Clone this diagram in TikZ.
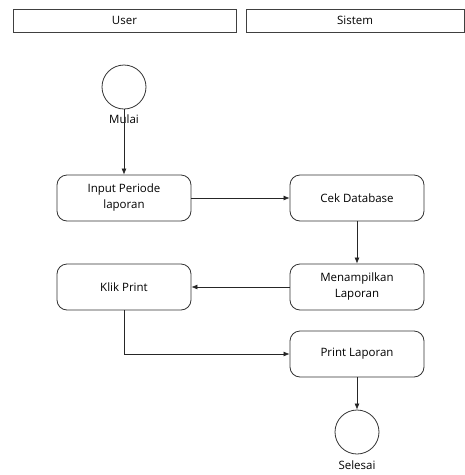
\documentclass[tikz,border=0pt]{standalone}
\usepackage{fontspec}
\setmainfont{Open Sans}
\usetikzlibrary{shapes}
\usetikzlibrary{positioning}
\usetikzlibrary{arrows.meta}
\tikzset{
    lane/.style = {rectangle, draw=black!75, line width=0.8pt, minimum width=223pt, minimum height=23pt, font=\fontsize{11.5}{14}\selectfont},
    act/.style = {rectangle, rounded corners=10pt, draw=black!80, line width=0.8pt, align=center, minimum width=134pt, minimum height=46pt, font=\fontsize{11.5}{16}\selectfont},
    state/.style = {circle, draw=black!80, line width=0.8pt, minimum size=44pt, inner sep=0pt},
    edgen/.style = {-{Latex[length=6pt,width=5pt]}, line width=0.7pt, black!85},
    edgep/.style = {line width=0.7pt, black!85} % plain
}

\begin{document}
\begin{tikzpicture}[x=1pt,y=-1pt]
\useasboundingbox (0,0) rectangle (465,475);
%
\node[lane] at (124.5,20.5) (user) {User};
\node[lane, minimum width=218pt] at (355,20.5) (sistem) {Sistem};
%
\node[state, label={[font=\fontsize{11.5}{14}\selectfont, inner sep=5pt]below:Mulai}] at (124,87) (mulai) {};
\node[act] at (124,198) (input) {Input Periode\\laporan};
\node[act] at (357,198) (cek) {Cek Database};
\node[act] at (357,287) (tampil) {Menampilkan\\Laporan};
\node[act] at (124,287) (klik) {Klik Print};
\node[act] at (357,354) (print) {Print Laporan};
\node[state, label={[font=\fontsize{11.5}{14}\selectfont, inner sep=6pt]below:Selesai}] at (357,432) (selesai) {};
%
\draw[edgen] (mulai) edge node {} (input);
\draw[edgen] (input) edge node {} (cek);
\draw[edgen] (cek) edge node {} (tampil);
\draw[edgen] (tampil) edge node {} (klik);
\draw[edgen] (klik) |- (print);
\draw[edgen] (print) edge node {} (selesai);
\end{tikzpicture}
\end{document}
